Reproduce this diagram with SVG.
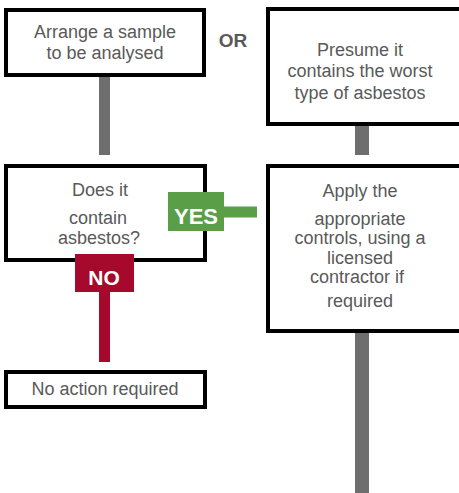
<svg xmlns="http://www.w3.org/2000/svg" width="459" height="493" viewBox="0 0 459 493">
<style>
.box{fill:#fff;stroke:#000;stroke-width:4}
.t{font-family:"Liberation Sans",Arial,sans-serif;font-size:18px;fill:#595959;text-anchor:middle}
.lbl{font-family:"Liberation Sans",Arial,sans-serif;font-weight:bold;fill:#fff;text-anchor:middle}
.gray{stroke:#6e6e6e;fill:none}
</style>
<rect width="459" height="493" fill="#fff"/>
<g id="sample">
<rect class="box" x="6" y="10" width="198" height="65"/>
<text class="t" x="105" y="38">Arrange a sample</text>
<text class="t" x="105" y="59">to be analysed</text>
</g>
<g id="or">
<text x="233" y="47" font-family="Liberation Sans,Arial,sans-serif" font-weight="bold" font-size="19" fill="#595959" text-anchor="middle">OR</text>
</g>
<g id="presume">
<rect class="box" x="268" y="9" width="200" height="115"/>
<text class="t" x="360" y="56">Presume it</text>
<text class="t" x="360" y="77">contains the worst</text>
<text class="t" x="360" y="99">type of asbestos</text>
</g>
<g id="contain">
<rect class="box" x="6" y="166" width="199" height="94"/>
<text class="t" x="100" y="196">Does it</text>
<text class="t" x="98" y="224">contain</text>
<text class="t" x="99" y="244" font-size="16">asbestos?</text>
</g>
<g id="apply">
<rect class="box" x="268" y="166" width="200" height="165"/>
<text class="t" x="360" y="197">Apply the</text>
<text class="t" x="360" y="225">appropriate</text>
<text class="t" x="360" y="244" font-size="17">controls, using a</text>
<text class="t" x="360" y="264">licensed</text>
<text class="t" x="357" y="283">contractor if</text>
<text class="t" x="360" y="307">required</text>
</g>
<g id="noaction">
<rect class="box" x="6" y="372" width="199" height="35"/>
<text class="t" x="105" y="395">No action required</text>
</g>
<g id="connectors">
<line class="gray" x1="104.5" y1="77" x2="104.5" y2="155" stroke-width="11"/>
<line class="gray" x1="362" y1="126" x2="362" y2="155" stroke-width="14"/>
<line class="gray" x1="362" y1="333" x2="362" y2="493" stroke-width="14"/>
<line x1="224" y1="212" x2="257" y2="212" stroke="#5a9e48" stroke-width="11"/>
<rect x="168" y="192" width="56" height="39" fill="#5a9e48"/>
<text class="lbl" x="196" y="224" font-size="22">YES</text>
<line x1="104.5" y1="292" x2="104.5" y2="362" stroke="#a6092b" stroke-width="11"/>
<rect x="75" y="254" width="59" height="38" fill="#a6092b"/>
<text class="lbl" x="104" y="285" font-size="21">NO</text>
</g>
</svg>
